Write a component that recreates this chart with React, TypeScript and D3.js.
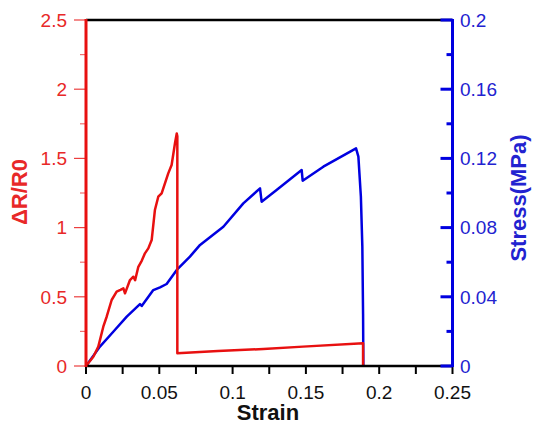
import React from "react";
import * as d3 from "d3";

const strainTicks = [0, 0.05, 0.1, 0.15, 0.2, 0.25];
const strainMinor = [0.025, 0.075, 0.125, 0.175, 0.225];
const drTicks = [0, 0.5, 1, 1.5, 2, 2.5];
const drTickLabels = ["0", "0.5", "1", "1.5", "2", "2.5"];
const drMinor = [0.25, 0.75, 1.25, 1.75, 2.25];
const stressTicks = [0, 0.04, 0.08, 0.12, 0.16, 0.2];
const stressTickLabels = ["0", "0.04", "0.08", "0.12", "0.16", "0.2"];
const stressMinor = [0.02, 0.06, 0.1, 0.14, 0.18];
const strainTickLabels = ["0", "0.05", "0.1", "0.15", "0.2", "0.25"];

const drStrain = [0, 0.005, 0.0084, 0.0118, 0.0141, 0.0175, 0.0209, 0.0235, 0.0255, 0.0266, 0.03, 0.0323, 0.0335, 0.0357, 0.038, 0.0402, 0.0425, 0.0448, 0.047, 0.0493, 0.0516, 0.0561, 0.0584, 0.0607, 0.0619, 0.0623, 0.0623, 0.09, 0.121, 0.148, 0.189, 0.189];
const drValue = [0, 0.067, 0.14, 0.284, 0.356, 0.477, 0.537, 0.55, 0.561, 0.525, 0.621, 0.645, 0.62, 0.717, 0.76, 0.814, 0.85, 0.91, 1.127, 1.223, 1.248, 1.392, 1.452, 1.609, 1.68, 1.66, 0.092, 0.108, 0.123, 0.14, 0.164, 0];

const stStrain = [0, 0.0095, 0.0186, 0.0278, 0.0368, 0.038, 0.0459, 0.0505, 0.055, 0.0619, 0.0709, 0.0778, 0.0937, 0.1073, 0.1187, 0.1198, 0.13, 0.1471, 0.1478, 0.1619, 0.1842, 0.1858, 0.1875, 0.1885, 0.189, 0.1892];
const stStress = [0, 0.0112, 0.0198, 0.0285, 0.0358, 0.0347, 0.0439, 0.0455, 0.0474, 0.0555, 0.0632, 0.07, 0.0805, 0.094, 0.1027, 0.095, 0.1017, 0.1133, 0.1071, 0.1152, 0.1258, 0.121, 0.098, 0.069, 0.03, 0];

const RED = "#e81010";
const BLUE = "#0000e0";
const RED_TXT = "#e82828";
const BLUE_TXT = "#2222d0";
const FONT = "'Liberation Sans', Arial, sans-serif";

export default function App() {
  const W = 533, H = 428;
  const x = d3.scaleLinear().domain([0, 0.25]).range([86, 452.5]);
  const yL = d3.scaleLinear().domain([0, 2.5]).range([366, 20]);
  const yR = d3.scaleLinear().domain([0, 0.2]).range([366, 20]);

  const redLine = d3.line<number>().x((_, i) => x(drStrain[i])).y((d) => yL(d))(drValue) || "";
  const blueLine = d3.line<number>().x((_, i) => x(stStrain[i])).y((d) => yR(d))(stStress) || "";

  const x0 = x(0), x1 = x(0.25), y0 = yL(0), yTop = yL(2.5);

  return (
    <svg width={W} height={H} style={{ position: "absolute", left: 0, top: 0, background: "#fff" }} fontFamily={FONT}>
      {/* top border */}
      <line x1={x0} x2={x1} y1={yTop} y2={yTop} stroke="#000" strokeWidth={2.5} />
      {/* data */}
      <path d={blueLine} fill="none" stroke={BLUE} strokeWidth={2.5} strokeLinejoin="round" />
      <path d={redLine} fill="none" stroke={RED} strokeWidth={2.5} strokeLinejoin="round" />
      {/* bottom axis */}
      <line x1={x0} x2={x1} y1={y0} y2={y0} stroke="#000" strokeWidth={2.5} />
      {strainTicks.concat(strainMinor).map((t, i) => (
        <line key={"xt" + i} x1={x(t)} x2={x(t)} y1={y0} y2={y0 + 8} stroke="#000" strokeWidth={2} />
      ))}
      {strainTicks.map((t, i) => (
        <text key={"xl" + i} x={x(t)} y={399} textAnchor="middle" fontSize={19} fill="#111">{strainTickLabels[i]}</text>
      ))}
      <text x={268} y={420} textAnchor="middle" fontSize={22} fontWeight="bold" fill="#111">Strain</text>
      {/* left axis */}
      {drTicks.map((t, i) => (
        <line key={"lt" + i} x1={x0 - 12} x2={x0} y1={yL(t)} y2={yL(t)} stroke={RED} strokeWidth={1.2} opacity={0.8} />
      ))}
      {drMinor.map((t, i) => (
        <line key={"lm" + i} x1={x0 - 6} x2={x0} y1={yL(t)} y2={yL(t)} stroke={RED} strokeWidth={1.2} opacity={0.6} />
      ))}
      {drTicks.map((t, i) => (
        <text key={"ll" + i} x={67} y={yL(t)} dy="0.36em" textAnchor="end" fontSize={19} fill={RED_TXT}>{drTickLabels[i]}</text>
      ))}
      <line x1={x0} x2={x0} y1={y0 + 1} y2={yTop - 1} stroke={RED} strokeWidth={3} />
      <text transform={`translate(27,192) rotate(-90)`} textAnchor="middle" fontSize={22} fontWeight="bold" fill={RED_TXT}>ΔR/R0</text>
      {/* right axis */}
      {stressTicks.map((t, i) => (
        <line key={"rt" + i} x1={x1 - 12} x2={x1} y1={yR(t)} y2={yR(t)} stroke={BLUE} strokeWidth={3} />
      ))}
      {stressMinor.map((t, i) => (
        <line key={"rm" + i} x1={x1 - 6} x2={x1} y1={yR(t)} y2={yR(t)} stroke={BLUE} strokeWidth={3} />
      ))}
      <line x1={x1} x2={x1} y1={y0 + 1} y2={yTop - 1} stroke={BLUE} strokeWidth={3} />
      {stressTicks.map((t, i) => (
        <text key={"rl" + i} x={460} y={yR(t)} dy="0.36em" textAnchor="start" fontSize={19} fill={BLUE_TXT}>{stressTickLabels[i]}</text>
      ))}
      <text transform={`translate(526,198) rotate(-90)`} textAnchor="middle" fontSize={22} fontWeight="bold" fill={BLUE_TXT}>Stress(MPa)</text>
    </svg>
  );
}
